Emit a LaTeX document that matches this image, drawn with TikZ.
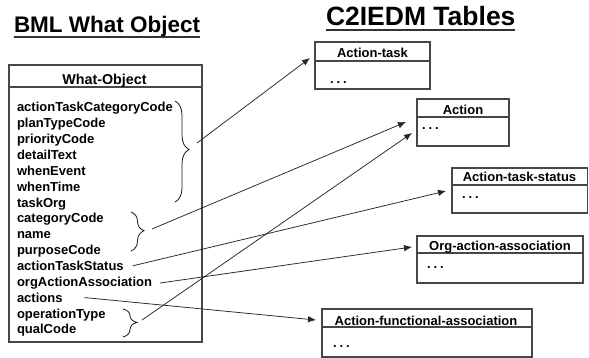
\documentclass[tikz,border=0pt]{standalone}
\usepackage{fontspec}
\setmainfont{Liberation Sans}
\usetikzlibrary{arrows.meta,decorations.pathreplacing}

\begin{document}
\begin{tikzpicture}[x=1pt,y=-1pt,
  every node/.style={inner sep=0pt, outer sep=0pt},
  lbl/.style={font=\bfseries\fontsize{13}{13}\selectfont},
  heading/.style={anchor=base west, font=\bfseries\fontsize{#1}{#1}\selectfont},
  frame/.style={draw=black!72, line width=1.2pt, anchor=north west},
  divider/.style={draw=black!72, line width=1.1pt},
  titleline/.style={draw=black!80, line width=1.4pt},
  link/.style={draw=black!85, line width=0.75pt, -{Latex[length=8pt,width=6.5pt]}},
  bracket/.style={draw=black!90, line width=0.8pt, decorate,
    decoration={brace, amplitude=#1, aspect=0.48}},
  field/.style={lbl, anchor=base west},
  ttitle/.style={lbl, anchor=base},
  dotsrow/.style={lbl, anchor=base west},
]
\newcommand{\tdots}{.\hspace{3pt}.\hspace{3pt}.}
\useasboundingbox[fill=white] (0,0) rectangle (589,358);

% ---- headings ----
\node[heading=22.5] (bmltitle) at (14,33) {BML What Object};
\draw[titleline] ([yshift=-4pt]bmltitle.base west) -- ([yshift=-4pt]bmltitle.base east);
\node[heading=26.5] (c2title) at (326,26) {C2IEDM Tables};
\draw[titleline] ([yshift=-4pt]c2title.base west) -- ([yshift=-4pt]c2title.base east);

% ---- What-Object class ----
\node[frame, minimum width=193pt, minimum height=277pt] (whatobj) at (9,65) {};
\draw[divider] (whatobj.west |- 0,87) -- (whatobj.east |- 0,87);
\node[ttitle, font=\bfseries\fontsize{14.3}{14.3}\selectfont] (whathead) at (104.5,85) {What-Object};
\foreach \name [count=\i from 0] in {actionTaskCategoryCode, planTypeCode,
    priorityCode, detailText, whenEvent, whenTime, taskOrg, categoryCode, name,
    purposeCode, actionTaskStatus, orgActionAssociation, actions,
    operationType, qualCode}
  \node[field] (f\i) at (17,{112+15.85*\i}) {\name};

% ---- groups of fields ----
\draw[bracket=14pt] (175,101) -- (175,202);
\draw[bracket=13pt] (131,212) -- (131,251);
\draw[bracket=14pt] (123,309) -- (123,337);
\coordinate (grpA) at (197,143);
\coordinate (grpB) at (152,229);
\coordinate (grpC) at (142,320);

% ---- C2IEDM tables ----
% Action-task
\node[frame, minimum width=115pt, minimum height=47pt] (acttask) at (315,42) {};
\draw[divider] (acttask.west |- 0,61) -- (acttask.east |- 0,61);
\node[ttitle] (acttaskhead) at (372.5,58) {Action-task};
\node[dotsrow] (acttaskdots) at (330,84) {\tdots};
% Action
\node[frame, minimum width=92pt, minimum height=47pt] (action) at (417,99) {};
\draw[divider] (action.west |- 0,117) -- (action.east |- 0,117);
\node[ttitle] (actionhead) at (463,115) {Action};
\node[dotsrow] (actiondots) at (422,130) {\tdots};
% Action-task-status
\node[frame, minimum width=135.5pt, minimum height=45pt] (status) at (452,168) {};
\draw[divider] (status.west |- 0,185) -- (status.east |- 0,185);
\node[ttitle] (statushead) at (519.5,182) {Action-task-status};
\node[dotsrow] (statusdots) at (462,199) {\tdots};
% Org-action-association
\node[frame, minimum width=166pt, minimum height=47pt] (orgassoc) at (417,236) {};
\draw[divider] (orgassoc.west |- 0,253) -- (orgassoc.east |- 0,253);
\node[ttitle] (orgassochead) at (500,251) {Org-action-association};
\node[dotsrow] (orgassocdots) at (427,269) {\tdots};
% Action-functional-association
\node[frame, minimum width=210pt, minimum height=48pt] (funcassoc) at (322,309) {};
\draw[divider] (funcassoc.west |- 0,327) -- (funcassoc.east |- 0,327);
\node[ttitle] (funcassochead) at (426,325) {Action-functional-association};
\node[dotsrow] (funcassocdots) at (333,347) {\tdots};

% ---- arrow end points ----
\coordinate (acttaskin) at (310,58);
\coordinate (actionin1) at (406,122);
\coordinate (actionin2) at (412,133);
\coordinate (statusin) at (446,191);
\coordinate (orgassocin) at (412,247);
\coordinate (funcassocin) at (316,320);

% ---- mappings ----
\draw[link] (grpA) -- (acttaskin);
\draw[link] (grpB) -- (actionin1);
\draw[link] (grpC) -- (actionin2);
\draw[link] ([xshift=9pt]f10.east) -- (statusin);
\draw[link] ([xshift=8pt]f11.east) -- (orgassocin);
\draw[link] ([xshift=22pt]f12.east) -- (funcassocin);
\end{tikzpicture}
\end{document}
